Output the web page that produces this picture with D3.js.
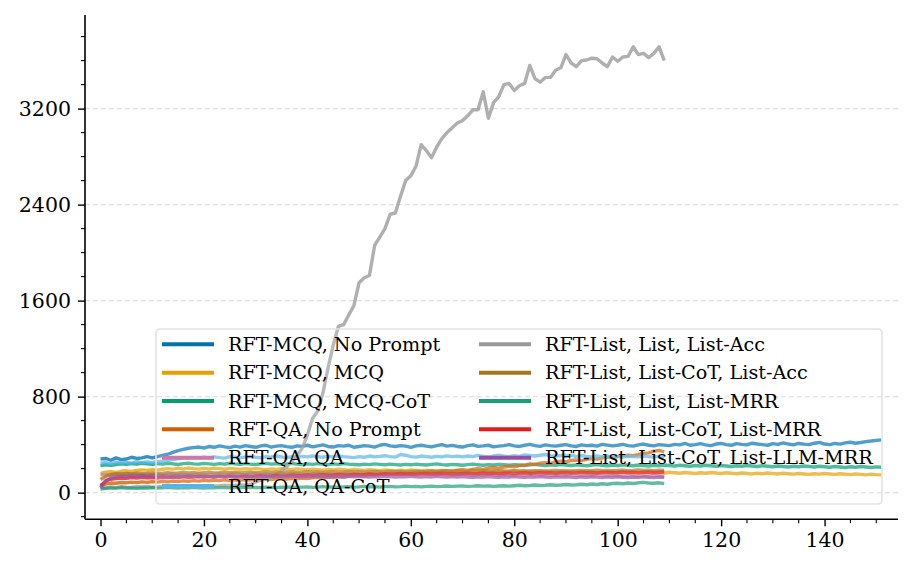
<!DOCTYPE html>
<html><head><meta charset="utf-8">
<script src="https://cdn.jsdelivr.net/npm/d3@7"></script>
<style>body{margin:0;background:#fff}svg{display:block}</style>
</head><body>
<svg id="chart" width="913" height="572"></svg>
<script>
// ---------- DATA ----------
const seriesNames = [
  "RFT-MCQ, No Prompt","RFT-MCQ, MCQ","RFT-MCQ, MCQ-CoT",
  "RFT-QA, No Prompt","RFT-QA, QA","RFT-QA, QA-CoT",
  "RFT-List, List, List-Acc","RFT-List, List-CoT, List-Acc","RFT-List, List, List-MRR",
  "RFT-List, List-CoT, List-MRR","RFT-List, List-CoT, List-LLM-MRR"
];
const seriesColors = ["#0072B2","#E69F00","#009E73","#D55E00","#CC79A7","#56B4E9",
  "#999999","#A6761D","#1B9E77","#E41A1C","#984EA3"];
const yTicks = [0, 800, 1600, 2400, 3200];
const xTicks = [0, 20, 40, 60, 80, 100, 120, 140];

const mcqNoPrompt = [280,285,270,290,275,280,295,285,290,300,
290,300,310,320,335,350,360,370,375,380,
372,385,378,390,382,375,388,380,392,385,
378,390,395,380,388,392,384,378,390,386,
395,382,390,398,385,380,392,388,395,378,
385,392,388,380,395,402,390,385,392,388,
378,390,395,388,382,392,400,388,394,385,
380,392,398,386,390,395,382,388,392,400,
390,385,395,402,392,386,398,392,388,395,
400,390,385,398,392,395,388,402,396,390,
395,402,392,388,398,405,395,390,400,396,
392,402,398,410,395,400,408,398,392,405,
410,400,395,408,402,398,412,405,400,395,
408,402,415,405,398,410,404,400,412,418,
405,400,410,404,415,420,412,418,425,430,436,440];
const mcqMcq = [160,170,175,168,178,182,176,185,190,186,
192,188,195,200,196,202,198,205,200,196,
202,198,204,200,196,202,198,194,200,196,
200,196,192,198,194,200,196,192,198,194,
190,196,192,188,194,190,196,192,188,194,
190,186,192,188,184,190,186,182,188,184,
190,186,182,188,184,180,186,182,178,184,
180,176,182,178,184,180,176,182,178,174,
180,176,172,178,174,170,176,172,168,174,
170,176,172,168,174,170,166,172,168,174,
170,166,172,168,164,170,166,162,168,164,
170,166,162,168,164,160,166,162,168,164,
160,166,162,158,164,160,156,162,158,164,
160,156,162,158,154,160,156,152,158,154,
160,156,152,158,154,150,156,152,148,154,150,148];
const mcqCot = [225,232,228,235,240,236,242,238,245,240,
236,242,238,245,240,235,242,246,240,238,
244,240,236,242,238,245,240,236,242,238,
235,240,244,238,242,236,240,245,238,234,
240,236,242,238,234,240,236,242,238,235,
232,238,234,240,236,232,238,234,230,236,
232,238,234,230,236,240,234,230,236,232,
228,234,238,232,228,234,230,236,232,228,
234,230,226,232,236,230,226,232,228,234,
230,226,232,228,224,230,234,228,224,230,
226,232,228,224,230,226,222,228,224,230,
226,222,228,224,220,226,222,228,224,220,
226,222,218,224,220,226,222,218,224,220,
216,222,218,214,220,216,222,218,214,220,
216,212,218,214,210,216,212,218,214,210,215,212];
const qaNoPrompt = [60,72,80,78,85,82,88,84,90,86,
92,88,94,90,96,92,98,94,100,96,
102,98,104,100,106,102,108,104,110,106,
112,108,114,110,116,118,114,120,116,122,
118,124,128,122,130,126,134,130,138,142,
145,140,150,146,154,150,158,162,156,164,
160,168,172,166,176,170,180,184,178,188,
192,186,196,200,194,205,210,204,214,220,
215,225,230,240,236,245,250,244,256,262,
258,268,272,266,278,284,280,290,296,290,
300,306,312,308,318,326,332,345,352,340];
const qaQa = [150,148,152,146,150,154,148,152,150,146,
150,154,148,152,156,150,154,148,152,156,
150,146,152,156,150,154,158,152,148,154,
158,152,156,150,154,158,152,156,160,154,
150,156,160,154,158,152,156,160,154,150,
156,152,158,154,150,156,160,154,150,156,
152,148,154,158,152,148,154,150,146,152,
156,150,146,152,148,154,150,146,152,148,
144,150,146,152,148,144,150,146,142,148,
144,150,146,140,146,142,148,144,140,146,
142,138,144,140,136,142,138,144,140,136];
const qaCot = [245,250,240,255,248,252,245,258,250,255,
250,258,262,270,275,282,288,290,292,288,
295,290,298,292,288,300,295,290,298,302,
295,290,300,296,305,298,292,300,296,302,
298,305,300,295,302,298,306,300,296,292,
300,295,305,298,302,308,300,296,318,312,
300,296,305,300,295,302,298,306,300,304,
298,305,300,310,302,298,306,312,304,300,
308,302,315,310,305,312,318,308,304,310,
305,312,300,308,302,298,306,300,304,298,
302,296,305,300,298,304,300,296,302,298];
const listAcc = [45,40,48,42,50,46,44,50,48,52,
46,50,54,48,52,56,50,54,58,52,
56,60,55,58,62,56,60,64,62,70,
90,105,118,130,150,185,215,265,310,370,
480,620,680,830,1040,1230,1385,1400,1480,1560,
1750,1790,1810,2060,2130,2200,2320,2330,2470,2600,
2640,2720,2900,2850,2790,2880,2950,3000,3040,3080,
3100,3140,3190,3190,3340,3120,3250,3300,3400,3410,
3350,3390,3410,3560,3450,3420,3460,3460,3520,3540,
3650,3580,3550,3600,3605,3620,3615,3580,3550,3630,
3595,3630,3635,3715,3650,3660,3625,3660,3715,3600];
const listCotAcc = [110,135,150,158,155,160,156,162,158,160,
164,160,162,166,162,164,168,164,166,162,
166,168,164,166,170,166,168,164,168,170,
166,168,172,168,170,166,170,172,168,170,
174,170,172,168,172,174,170,172,176,172,
174,170,174,176,172,174,178,174,176,172,
176,178,174,176,180,176,178,174,178,180,
176,178,182,178,180,176,180,182,178,180,
184,180,182,178,182,184,180,182,186,182,
184,180,184,186,182,184,188,184,186,182,
186,188,184,186,190,186,188,184,188,186];
const listMrr = [30,36,40,38,42,38,40,36,40,38,
42,38,40,44,40,38,42,40,44,40,
38,42,40,44,42,40,44,42,46,42,
44,42,46,44,42,46,44,48,44,46,
48,44,46,50,46,48,44,48,50,46,
48,52,48,50,46,50,52,48,50,54,
50,52,48,52,54,50,52,56,52,54,
56,52,54,58,54,56,52,56,58,54,
58,62,58,60,64,60,62,66,62,64,
68,64,66,70,66,72,68,74,70,76,
78,74,80,76,82,86,80,78,82,76];
const listCotMrr = [55,100,112,118,122,120,125,122,128,124,
126,122,128,125,130,126,132,128,130,134,
130,134,131,136,132,138,134,136,140,136,
138,142,138,140,144,140,142,146,142,144,
148,144,146,150,146,148,152,148,150,154,
150,152,156,152,154,158,154,156,160,156,
158,154,158,160,156,158,162,158,160,156,
160,162,158,160,164,160,162,158,162,164,
160,164,166,162,164,168,164,166,162,166,
168,164,166,170,166,168,164,168,170,166,
168,172,168,170,166,170,172,168,170,172];
const listLlmMrr = [40,95,122,132,138,135,140,137,142,138,
140,136,142,138,135,140,137,142,138,135,
140,136,133,138,135,140,136,132,138,134,
138,134,140,136,132,138,135,140,136,133,
137,134,139,135,132,137,134,130,136,133,
137,133,130,135,132,137,134,130,135,132,
136,132,129,134,131,136,133,129,134,131,
135,131,128,133,130,135,131,128,133,130,
134,130,127,132,129,134,130,127,132,129,
133,129,126,131,128,133,129,126,131,128,
132,128,125,130,127,132,128,125,130,127];

const seriesValues = [mcqNoPrompt, mcqMcq, mcqCot, qaNoPrompt, qaQa, qaCot,
  listAcc, listCotAcc, listMrr, listCotMrr, listLlmMrr];

// ---------- CHART ----------
(function () {
const svg = d3.select("#chart");
const FONT = "'DejaVu Serif', serif";
const pLeft = 85, pRight = 898, pTop = 15, pBottom = 519.3;
const x = d3.scaleLinear().domain([-3, 154.2]).range([pLeft, pRight]);
const y = d3.scaleLinear().domain([-222, 3980]).range([pBottom, pTop]);

// grid
svg.append("g").selectAll("line").data(yTicks).join("line")
  .attr("x1", pLeft).attr("x2", pRight)
  .attr("y1", d => y(d)).attr("y2", d => y(d))
  .attr("stroke", "#dedede").attr("stroke-width", 1.1)
  .attr("stroke-dasharray", "5,3");

// lines
const line = d3.line().x((d, i) => x(i)).y(d => y(d));
svg.append("g").selectAll("path").data(seriesValues).join("path")
  .attr("d", d => line(d))
  .attr("fill", "none")
  .attr("stroke", (d, i) => seriesColors[i])
  .attr("stroke-opacity", 0.78)
  .attr("stroke-width", 3.4)
  .attr("stroke-linejoin", "round");

// axes
const fmt = d3.format("d");
const yAxis = d3.axisLeft(y).tickValues(yTicks).tickFormat(fmt).tickSize(7).tickPadding(7).tickSizeOuter(0);
const gy = svg.append("g").attr("transform", `translate(${pLeft},0)`).call(yAxis);
const xAxis = d3.axisBottom(x).tickValues(xTicks).tickFormat(fmt).tickSize(7).tickPadding(6).tickSizeOuter(0);
const gx = svg.append("g").attr("transform", `translate(0,${pBottom})`).call(xAxis);
[gx, gy].forEach(g => {
  g.select(".domain").remove();
  g.selectAll(".tick line").attr("stroke", "#000").attr("stroke-width", 1.4);
  g.selectAll(".tick text").attr("font-family", FONT).attr("font-size", 20.5).attr("fill", "#000");
});
// minor ticks
const yMinor = d3.range(-200, 3801, 200).filter(v => !yTicks.includes(v));
svg.append("g").selectAll("line").data(yMinor).join("line")
  .attr("x1", pLeft - 4).attr("x2", pLeft).attr("y1", d => y(d)).attr("y2", d => y(d))
  .attr("stroke", "#000").attr("stroke-width", 1.1);
const xMinor = d3.range(0, 151, 5).filter(v => !xTicks.includes(v));
svg.append("g").selectAll("line").data(xMinor).join("line")
  .attr("y1", pBottom).attr("y2", pBottom + 4).attr("x1", d => x(d)).attr("x2", d => x(d))
  .attr("stroke", "#000").attr("stroke-width", 1.1);
// spines
svg.append("line").attr("x1", pLeft).attr("x2", pLeft).attr("y1", pTop).attr("y2", pBottom)
  .attr("stroke", "#000").attr("stroke-width", 1.6);
svg.append("line").attr("x1", pLeft).attr("x2", pRight).attr("y1", pBottom).attr("y2", pBottom)
  .attr("stroke", "#000").attr("stroke-width", 1.6);

// legend
const lg = svg.append("g");
lg.append("rect").attr("x", 156).attr("y", 329).attr("width", 726).attr("height", 175)
  .attr("rx", 4).attr("fill", "#fff").attr("fill-opacity", 0.12)
  .attr("stroke", "#e3e3e3").attr("stroke-width", 1.6);
const rowY = i => 344.3 + i * 28.35;
seriesNames.forEach((name, i) => {
  const col = i < 6 ? 0 : 1;
  const row = i < 6 ? i : i - 6;
  const hx = col === 0 ? 162 : 479;
  const tx = col === 0 ? 228 : 545;
  lg.append("line").attr("x1", hx).attr("x2", hx + 52)
    .attr("y1", rowY(row)).attr("y2", rowY(row))
    .attr("stroke", seriesColors[i]).attr("stroke-width", 4);
  lg.append("text").attr("x", tx).attr("y", rowY(row)).attr("dy", "0.35em")
    .attr("font-family", FONT).attr("font-size", 19.2).attr("fill", "#000").text(name);
});
})();
</script>
</body></html>
